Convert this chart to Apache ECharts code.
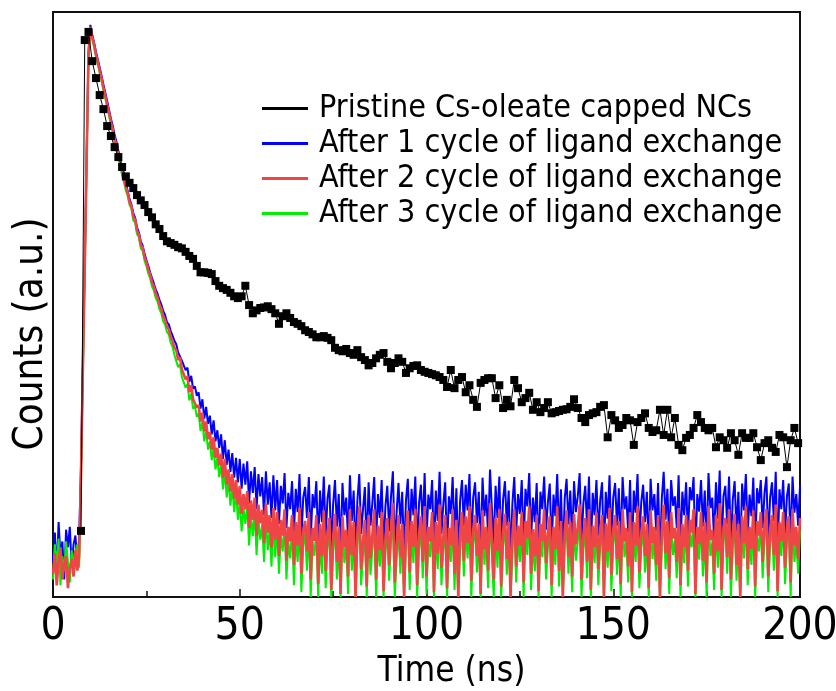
<!DOCTYPE html>
<html>
<head>
<meta charset="utf-8">
<script src="https://cdn.jsdelivr.net/npm/echarts@6/dist/echarts.min.js"></script>
<style>
html,body{margin:0;padding:0;background:#fff;}
#chart{width:836px;height:691px;}
</style>
</head>
<body>
<div id="chart"></div>
<script>
// ---- Data (counts in arbitrary units, 0..1000 of axis height) ----
const seriesNames = [
  'Pristine Cs-oleate capped NCs',
  'After 1 cycle of ligand exchange',
  'After 2 cycle of ligand exchange',
  'After 3 cycle of ligand exchange'
];
const xTicks = [0, 50, 100, 150, 200];

// Pristine (black squares), times start at 7.5 ns, 1 ns channel
const pristineStart = 7.5;
const pristineStep = 1;
const pristineCounts = [
  113, 952, 966, 916, 887, 858, 834, 805, 788, 769,
  752, 735, 719, 708, 699, 687, 678, 670, 658, 649,
  637, 629, 617, 608, 605, 602, 598, 596, 590, 583,
  578, 566, 555, 555, 554, 552, 540, 532, 528, 525,
  520, 514, 511, 514, 532, 499, 485, 490, 494, 495,
  497, 492, 485, 467, 480, 485, 477, 470, 467, 463,
  456, 453, 449, 444, 444, 446, 443, 439, 426, 422,
  420, 424, 417, 414, 422, 410, 405, 396, 400, 408,
  414, 417, 402, 391, 400, 408, 402, 383, 391, 395,
  396, 388, 385, 383, 381, 379, 376, 371, 359, 388,
  357, 371, 376, 350, 362, 337, 325, 366, 371, 374,
  374, 340, 362, 323, 337, 326, 371, 357, 333, 340,
  349, 320, 333, 316, 323, 333, 314, 316, 318, 320,
  321, 325, 338, 323, 306, 299, 311, 314, 316, 325,
  328, 273, 311, 302, 289, 294, 306, 302, 260, 299,
  306, 314, 289, 282, 285, 320, 277, 320, 273, 306,
  260, 251, 272, 277, 289, 311, 299, 289, 285, 289,
  256, 273, 268, 255, 280, 268, 243, 280, 272, 272,
  280, 256, 234, 263, 268, 255, 248, 277, 273, 222,
  268, 289, 263
];

// Ligand-exchanged traces, 0.5 ns channel from 0 ns
const traceStep = 0.5;
const cycle1Counts = [
  60, 110, 40, 128, 70, 95, 30, 115, 85, 120, 50, 90, 105, 60, 100, 225, 400, 570, 752, 930,
  978, 961, 948, 932, 919, 905, 891, 876, 862, 848, 833, 818, 805, 790, 778, 763, 750, 734, 722, 708,
  694, 680, 671, 656, 648, 632, 623, 608, 601, 587, 576, 566, 555, 545, 536, 526, 518, 508, 500, 489,
  482, 470, 466, 455, 447, 438, 432, 418, 421, 404, 402, 388, 392, 368, 378, 356, 360, 344, 350, 322,
  338, 305, 325, 296, 310, 278, 302, 266, 285, 255, 278, 236, 268, 226, 252, 214, 246, 204, 238, 196,
  236, 185, 228, 192, 232, 160, 215, 178, 222, 150, 210, 172, 205, 140, 215, 158, 196, 135, 208, 148,
  200, 125, 190, 160, 212, 118, 178, 150, 198, 110, 185, 145, 210, 100, 170, 188, 135, 205, 95, 176,
  152, 198, 90, 182, 128, 206, 105, 168, 192, 80, 158, 200, 120, 176, 72, 195, 140, 170, 98, 208,
  130, 182, 70, 165, 210, 108, 150, 188, 80, 196, 122, 160, 205, 92, 176, 135, 200, 75, 155, 190,
  112, 172, 215, 85, 145, 195, 125, 180, 68, 165, 202, 100, 185, 140, 206, 82, 160, 192, 118, 212,
  95, 175, 150, 200, 72, 182, 130, 214, 108, 158, 196, 78, 172, 142, 205, 98, 186, 65, 165, 200,
  120, 192, 148, 210, 88, 170, 196, 126, 180, 70, 204, 138, 175, 102, 218, 152, 90, 190, 135, 206,
  80, 166, 198, 122, 182, 62, 160, 205, 110, 176, 142, 200, 86, 185, 155, 212, 98, 170, 128, 195,
  72, 180, 150, 206, 115, 162, 194, 82, 175, 138, 210, 102, 184, 66, 168, 202, 124, 182, 92, 198,
  145, 172, 212, 88, 160, 190, 118, 206, 75, 178, 140, 200, 105, 165, 196, 68, 180, 134, 208, 96,
  170, 195, 122, 186, 82, 205, 150, 172, 110, 200, 70, 182, 144, 210, 100, 162, 192, 128, 180, 78,
  202, 148, 176, 112, 195, 64, 168, 214, 132, 185, 90, 200, 156, 172, 118, 208, 80, 180, 140, 196,
  104, 188, 165, 205, 70, 176, 146, 200, 120, 182, 86, 212, 152, 170, 98, 196, 134, 216, 75, 172,
  190, 124, 206, 90, 166, 198, 112, 180, 68, 194, 148, 210, 106, 175, 138, 204, 82, 186, 160, 200,
  118, 178, 206, 95, 170, 196, 130, 214, 72, 184, 150, 200, 108, 172, 194, 88, 206, 144, 176, 122,
  190
];
const cycle2Counts = [
  40, 75, 20, 60, 85, 30, 55, 70, 15, 50, 65, 35, 80, 45, 70, 210, 391, 564, 747, 928,
  975, 957, 944, 927, 915, 900, 886, 871, 857, 842, 828, 812, 799, 783, 772, 756, 743, 727, 715, 701,
  690, 675, 668, 650, 645, 626, 620, 602, 598, 581, 572, 560, 551, 538, 531, 519, 512, 500, 493, 480,
  474, 462, 458, 445, 438, 426, 422, 405, 410, 389, 390, 372, 377, 350, 362, 338, 341, 324, 328, 300,
  315, 283, 300, 270, 282, 252, 273, 238, 255, 225, 245, 204, 236, 192, 218, 180, 210, 168, 200, 158,
  190, 142, 176, 150, 181, 118, 165, 132, 170, 104, 158, 126, 149, 92, 160, 110, 140, 84, 152, 98,
  145, 70, 132, 105, 150, 62, 120, 95, 140, 55, 128, 88, 152, 40, 112, 130, 78, 145, 30, 118,
  96, 140, 22, 125, 70, 148, 45, 110, 135, 12, 100, 142, 60, 120, 5, 138, 85, 115, 35, 150,
  72, 128, 0, 110, 155, 48, 95, 132, 18, 140, 66, 105, 150, 30, 122, 80, 145, 10, 100, 135,
  55, 118, 160, 25, 90, 140, 68, 125, 0, 112, 148, 42, 130, 86, 150, 20, 108, 138, 60, 155,
  35, 120, 95, 145, 8, 128, 75, 158, 50, 102, 140, 15, 118, 88, 150, 40, 132, 0, 110, 145,
  62, 138, 92, 155, 28, 115, 140, 70, 125, 5, 148, 82, 120, 45, 160, 98, 30, 135, 78, 150,
  18, 112, 142, 65, 128, 0, 105, 150, 52, 122, 88, 145, 25, 130, 100, 155, 40, 116, 70, 140,
  10, 125, 95, 150, 58, 108, 138, 20, 120, 82, 155, 45, 130, 0, 112, 148, 68, 128, 35, 142,
  90, 118, 158, 30, 105, 135, 60, 150, 12, 122, 85, 145, 48, 110, 140, 0, 126, 78, 152, 38,
  115, 140, 65, 130, 22, 150, 95, 118, 52, 145, 8, 128, 88, 155, 42, 106, 138, 70, 125, 15,
  148, 92, 120, 55, 140, 0, 112, 158, 75, 130, 32, 145, 100, 118, 60, 152, 20, 125, 85, 140,
  45, 132, 110, 150, 5, 120, 90, 145, 62, 128, 25, 155, 98, 115, 40, 140, 78, 160, 12, 118,
  135, 68, 150, 30, 110, 142, 55, 125, 0, 138, 92, 155, 48, 120, 82, 148, 18, 130, 105, 145,
  60, 122, 150, 35, 115, 140, 72, 158, 10, 128, 95, 145, 50, 118, 138, 25, 150, 88, 120, 65,
  135
];
const cycle3Counts = [
  30, 90, 55, 100, 20, 70, 45, 95, 60, 25, 80, 40, 65, 90, 50, 205, 385, 560, 742, 925,
  972, 954, 940, 924, 911, 896, 882, 866, 853, 837, 823, 807, 794, 778, 767, 750, 738, 721, 709, 695,
  686, 670, 664, 644, 640, 620, 615, 596, 592, 575, 566, 553, 545, 531, 524, 511, 505, 492, 485, 471,
  466, 453, 449, 435, 428, 414, 411, 393, 398, 376, 378, 358, 364, 336, 348, 322, 327, 308, 314, 284,
  300, 266, 285, 252, 266, 234, 256, 218, 238, 205, 228, 184, 218, 170, 200, 156, 190, 145, 182, 132,
  165, 112, 152, 125, 156, 88, 140, 104, 146, 72, 132, 98, 124, 60, 136, 80, 115, 52, 128, 68,
  120, 40, 106, 78, 128, 30, 95, 66, 118, 20, 102, 60, 130, 8, 88, 108, 45, 122, 0, 94,
  70, 118, 0, 100, 40, 128, 15, 86, 112, 0, 75, 124, 30, 96, 0, 118, 58, 92, 5, 130,
  45, 106, 0, 88, 138, 20, 70, 112, 0, 120, 38, 80, 132, 0, 98, 52, 125, 0, 75, 115,
  28, 95, 140, 0, 64, 120, 40, 102, 0, 88, 130, 12, 108, 58, 135, 0, 82, 118, 32, 140,
  5, 96, 68, 128, 0, 105, 48, 142, 20, 78, 122, 0, 95, 60, 134, 12, 110, 0, 85, 128,
  35, 118, 66, 140, 0, 90, 122, 42, 102, 0, 132, 55, 98, 15, 145, 72, 0, 115, 50, 135,
  0, 88, 124, 38, 106, 0, 80, 135, 25, 100, 60, 128, 0, 108, 72, 140, 12, 92, 44, 122,
  0, 102, 68, 134, 30, 84, 120, 0, 96, 55, 140, 18, 108, 0, 88, 130, 40, 104, 8, 125,
  62, 95, 142, 0, 80, 118, 32, 134, 0, 98, 58, 128, 20, 86, 122, 0, 102, 50, 138, 10,
  90, 124, 38, 108, 0, 135, 68, 96, 25, 130, 0, 104, 60, 140, 15, 82, 120, 42, 100, 0,
  132, 65, 98, 28, 122, 0, 88, 142, 48, 108, 5, 128, 72, 96, 32, 136, 0, 102, 58, 124,
  18, 110, 85, 134, 0, 96, 64, 128, 35, 104, 0, 140, 70, 92, 12, 124, 50, 145, 0, 95,
  118, 40, 132, 0, 86, 124, 28, 100, 0, 120, 66, 138, 20, 98, 55, 130, 0, 108, 78, 126,
  32, 100, 136, 8, 92, 120, 45, 140, 0, 104, 70, 128, 22, 94, 122, 0, 132, 60, 98, 40,
  115
];

// ---- Build ----
function pairs(start, step, arr) {
  return arr.map((v, i) => [start + i * step, v]);
}
const FONT = "'DejaVu Sans Condensed', 'Liberation Sans Narrow', 'Open Sans', sans-serif";

const chart = echarts.init(document.getElementById('chart'), null, {renderer: 'canvas'});
chart.setOption({
  animation: false,
  backgroundColor: '#fff',
  grid: {left: 53, right: 36, top: 12, bottom: 94, outerBoundsMode: 'none', containLabel: false,
         show: true, borderColor: '#111', borderWidth: 2, backgroundColor: 'transparent'},
  legend: {
    orient: 'vertical', left: 257, top: 87,
    data: seriesNames,
    icon: 'rect', itemWidth: 46, itemHeight: 3, itemGap: 2,
    textStyle: {fontFamily: FONT, fontSize: 32, color: '#000', lineHeight: 33, padding: [0, 0, 0, 6]}
  },
  xAxis: {
    type: 'value', min: xTicks[0], max: xTicks[xTicks.length - 1], interval: 50,
    name: 'Time (ns)', nameLocation: 'middle', nameGap: 44,
    nameTextStyle: {fontFamily: FONT, fontSize: 35, color: '#000', padding: [0, 0, 0, 50]},
    axisLine: {show: true, lineStyle: {color: '#111', width: 2}},
    axisTick: {show: true, inside: true, length: 8, lineStyle: {color: '#111', width: 1.5}},
    minorTick: {show: true, splitNumber: 2, length: 6, lineStyle: {color: '#111', width: 1.5}},
    axisLabel: {fontFamily: FONT, fontSize: 44, color: '#000', margin: 9},
    splitLine: {show: false}, minorSplitLine: {show: false}
  },
  yAxis: {
    type: 'value', min: 0, max: 1000,
    axisLine: {show: false}, axisTick: {show: false}, axisLabel: {show: false},
    splitLine: {show: false}
  },
  graphic: [{
    type: 'text', x: 32, y: 334, rotation: Math.PI / 2,
    style: {text: 'Counts (a.u.)', fontFamily: FONT, fontSize: 40, fill: '#000', align: 'center', verticalAlign: 'middle'}
  }],
  series: [
    {name: seriesNames[1], type: 'line', data: pairs(0, traceStep, cycle1Counts), showSymbol: false, symbol: 'none',
     lineStyle: {color: '#0000ff', width: 2}, itemStyle: {color: '#0000ff'}, z: 2},
    {name: seriesNames[3], type: 'line', data: pairs(0, traceStep, cycle3Counts), showSymbol: false, symbol: 'none',
     lineStyle: {color: '#00ee00', width: 2}, itemStyle: {color: '#00ee00'}, z: 3},
    {name: seriesNames[2], type: 'line', data: pairs(0, traceStep, cycle2Counts), showSymbol: false, symbol: 'none',
     lineStyle: {color: '#f04545', width: 2.6}, itemStyle: {color: '#f04545'}, z: 4},
    {name: seriesNames[0], type: 'line', data: pairs(pristineStart, pristineStep, pristineCounts),
     symbol: 'rect', symbolSize: 8, showSymbol: true,
     lineStyle: {color: '#000', width: 1}, itemStyle: {color: '#000'}, z: 5}
  ]
});
</script>
</body>
</html>
